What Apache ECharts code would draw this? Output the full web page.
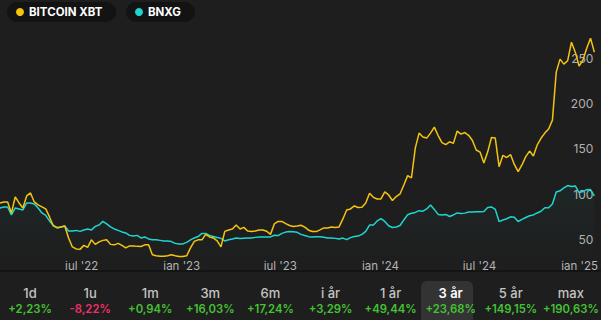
<!DOCTYPE html>
<html>
<head>
<meta charset="utf-8">
<script src="https://cdn.jsdelivr.net/npm/echarts@6/dist/echarts.min.js"></script>
<style>
	html, body { margin: 0; padding: 0; background: #1e1e1e; }
	#wrap { position: relative; width: 601px; height: 320px; overflow: hidden; }
	#chart { position: absolute; left: 0; top: 0; width: 601px; height: 320px; }
	#periods {
		position: absolute; left: 0; top: 270px; width: 601px; height: 50px;
		border-top: 2px solid #141414; display: flex; box-sizing: border-box;
		font-family: Inter, "Noto Sans", sans-serif;
	}
	.tab { flex: 1; text-align: center; position: relative; }
	.tab .lbl { position: absolute; left: 0; right: 0; top: 13px; font-size: 13px; color: #c4c4c4; font-weight: 500; }
	.tab .pct { position: absolute; left: 0; right: 0; top: 30px; font-size: 11.3px; font-weight: 600; color: #45c234; }
	.tab .pct.neg { color: #ef2f6e; }
	.tab.on .bg { position: absolute; left: 0; right: 8px; top: 9px; bottom: 0; background: #333333; border-radius: 6px 6px 0 0; }
	.tab.on .lbl { color: #ffffff; font-weight: 600; }
</style>
</head>
<body>
<div id="wrap">
	<div id="chart"></div>
	<div id="periods"></div>
</div>
<script>
// weekly closes, start 2022-02-01
var startDay = '2022-02-01';
var dayStep = 7;

var btc = [90.6, 91.7, 91.7, 79.6, 97.2, 90.6, 85.1, 98.3, 101.6, 91.7,
	88.4, 86.2, 84.0, 75.2, 65.3, 63.1, 64.2, 65.3, 52.1, 42.2,
	40.0, 39.5, 43.9, 41.7, 50.0, 45.0, 47.8, 49.4, 50.0, 45.0,
	44.5, 46.1, 43.9, 41.2, 43.3, 43.3, 42.8, 42.6, 44.5, 44.5,
	33.5, 32.4, 31.8, 31.8, 32.4, 33.5, 32.4, 31.6, 31.6, 32.4,
	41.2, 48.3, 50.0, 50.0, 56.0, 53.2, 52.1, 48.8, 42.2, 59.3,
	60.9, 62.0, 66.4, 62.0, 63.7, 59.8, 59.1, 59.8, 60.9, 60.9,
	59.5, 56.0, 67.5, 70.3, 70.3, 67.9, 65.8, 64.7, 65.3, 66.1,
	64.0, 60.6, 59.1, 59.1, 60.9, 63.1, 63.1, 64.2, 63.7, 64.2,
	73.0, 82.9, 84.0, 87.3, 85.6, 85.8, 90.6, 101.2, 96.8, 95.0,
	95.0, 102.7, 99.4, 93.3, 97.7, 100.5, 110.4, 120.7, 118.1, 151.0,
	167.5, 163.1, 162.0, 167.5, 174.1, 164.8, 157.1, 154.9, 157.9, 156.2,
	169.7, 166.4, 168.1, 165.1, 159.3, 148.9, 146.6, 134.6, 146.6, 162.6,
	162.0, 130.5, 143.0, 140.6, 143.9, 133.0, 125.2, 132.4, 141.6, 147.7,
	142.3, 154.4, 161.8, 167.5, 172.0, 181.8, 234.6, 248.9, 243.4, 247.2,
	267.5, 256.6, 241.2, 247.8, 260.9, 271.9, 256.6];

var bnxg = [85.1, 86.2, 86.2, 77.4, 85.1, 84.0, 82.9, 90.6, 90.6, 89.5,
	85.1, 79.6, 76.9, 70.8, 65.9, 63.7, 64.2, 65.3, 59.8, 59.8,
	60.4, 59.3, 60.9, 62.0, 60.9, 64.8, 66.4, 70.3, 67.5, 64.2,
	62.0, 60.4, 58.7, 57.6, 54.9, 54.3, 54.9, 52.1, 53.2, 51.0,
	50.0, 50.0, 49.4, 48.8, 48.8, 48.1, 46.1, 45.3, 45.5, 47.2,
	50.0, 52.1, 53.6, 57.1, 57.1, 54.9, 53.6, 52.5, 51.6, 48.8,
	50.0, 51.0, 52.1, 51.4, 51.8, 52.1, 52.1, 52.7, 53.2, 53.2,
	53.2, 53.2, 55.1, 54.7, 57.1, 58.5, 59.1, 59.0, 58.3, 56.0,
	54.7, 53.5, 53.2, 53.5, 53.5, 52.9, 52.1, 52.1, 51.6, 51.0,
	51.9, 50.2, 52.4, 53.6, 54.1, 56.0, 59.3, 66.2, 66.4, 70.8,
	73.4, 70.3, 65.5, 63.6, 64.2, 65.8, 71.9, 77.7, 79.2, 80.2,
	82.1, 81.5, 84.0, 88.4, 83.5, 78.0, 77.4, 78.0, 75.7, 77.4,
	79.6, 79.0, 79.4, 80.7, 80.7, 81.0, 81.0, 81.3, 85.7, 86.2,
	83.5, 70.1, 71.9, 73.2, 75.3, 74.9, 70.2, 72.5, 74.6, 76.5,
	77.4, 79.6, 81.4, 85.3, 85.3, 89.5, 102.7, 104.0, 107.1, 109.8,
	108.7, 109.3, 102.1, 103.1, 105.2, 105.4, 98.3];

var yTicks = [50, 100, 150, 200, 250];
var xTicks = ['2022-07-01', '2023-01-01', '2023-07-01', '2024-01-01', '2024-07-01', '2025-01-01'];
var monthNames = ['jan', 'feb', 'mar', 'apr', 'maj', 'jun', 'jul', 'aug', 'sep', 'okt', 'nov', 'dec'];

var periods = ['1d', '1u', '1m', '3m', '6m', 'i år', '1 år', '3 år', '5 år', 'max'];
var changes = ['+2,23%', '-8,22%', '+0,94%', '+16,03%', '+17,24%', '+3,29%', '+49,44%', '+23,68%', '+149,15%', '+190,63%'];
var activePeriod = '3 år';

function toTime(s) {
	return new Date(s + 'T00:00:00Z').getTime();
}

function buildDates() {
	var t0 = toTime(startDay);
	var out = [];
	for (var i = 0; i < btc.length; i++) {
		out.push(t0 + i * dayStep * 86400000);
	}
	return out;
}
var dates = buildDates();

function pair(vals) {
	var t = [];
	for (var i = 0; i < vals.length; i++) {
		t.push([dates[i], vals[i]]);
	}
	return t;
}

function makeTabs() {
	var box = document.getElementById('periods');
	for (var i = 0; i < periods.length; i++) {
		var d = document.createElement('div');
		d.className = 'tab' + (periods[i] == activePeriod ? ' on' : '');
		var neg = changes[i].charAt(0) == '-';
		d.innerHTML = '<div class="bg"></div><div class="lbl">' + periods[i] + '</div>' +
			'<div class="pct' + (neg ? ' neg' : '') + '">' + changes[i] + '</div>';
		box.appendChild(d);
	}
}

function makeChart() {
	var myChart = echarts.init(document.getElementById('chart'), null, {renderer: 'svg'});
	var legendBase = {
		top: 2,
		icon: 'circle',
		itemWidth: 8,
		itemHeight: 8,
		itemGap: 0,
		selectedMode: false,
		backgroundColor: '#131313',
		borderRadius: 10,
		padding: [4, 14, 4, 9],
		textStyle: {
			color: '#ffffff',
			fontSize: 11.5,
			fontWeight: 'bold',
			fontFamily: 'Inter'
		}
	};
	var option = {
		backgroundColor: '#1e1e1e',
		animation: false,
		legend: [
			Object.assign({}, legendBase, {left: 7, data: ['BITCOIN XBT']}),
			Object.assign({}, legendBase, {left: 126, data: ['BNXG']})
		],
		grid: {left: 0, right: 2, top: 20, bottom: 62},
		xAxis: {
			type: 'value',
			min: dates[0],
			max: dates[dates.length - 1],
			axisLine: {show: false},
			axisTick: {show: false},
			splitLine: {show: false},
			axisLabel: {
				color: '#b4b4b4',
				fontSize: 11.5,
				fontFamily: 'Inter',
				margin: 2,
				customValues: xTicks.map(toTime),
				formatter: function (v) {
					var d = new Date(v);
					return monthNames[d.getUTCMonth()] + " '" + String(d.getUTCFullYear()).slice(2);
				}
			}
		},
		yAxis: {
			type: 'value',
			position: 'right',
			min: 30,
			max: 292,
			axisLine: {show: false},
			axisTick: {show: false},
			splitLine: {show: false},
			axisLabel: {
				inside: true,
				margin: 1,
				color: '#b0b0b0',
				fontSize: 12,
				fontFamily: 'Inter',
				customValues: yTicks
			}
		},
		series: [{
			name: 'BITCOIN XBT',
			type: 'line',
			data: pair(btc),
			showSymbol: false,
			color: '#f5c40f',
			lineStyle: {width: 1.5, color: '#f5c40f'},
			z: 3
		}, {
			name: 'BNXG',
			type: 'line',
			data: pair(bnxg),
			showSymbol: false,
			color: '#1fd6cf',
			lineStyle: {width: 1.5, color: '#1fd6cf'},
			areaStyle: {
				color: new echarts.graphic.LinearGradient(0, 0, 0, 1, [
					{offset: 0, color: 'rgba(31,214,207,0.07)'},
					{offset: 1, color: 'rgba(31,214,207,0.0)'}
				])
			},
			z: 2
		}]
	};
	myChart.setOption(option);
}

makeTabs();
makeChart();
</script>
</body>
</html>
